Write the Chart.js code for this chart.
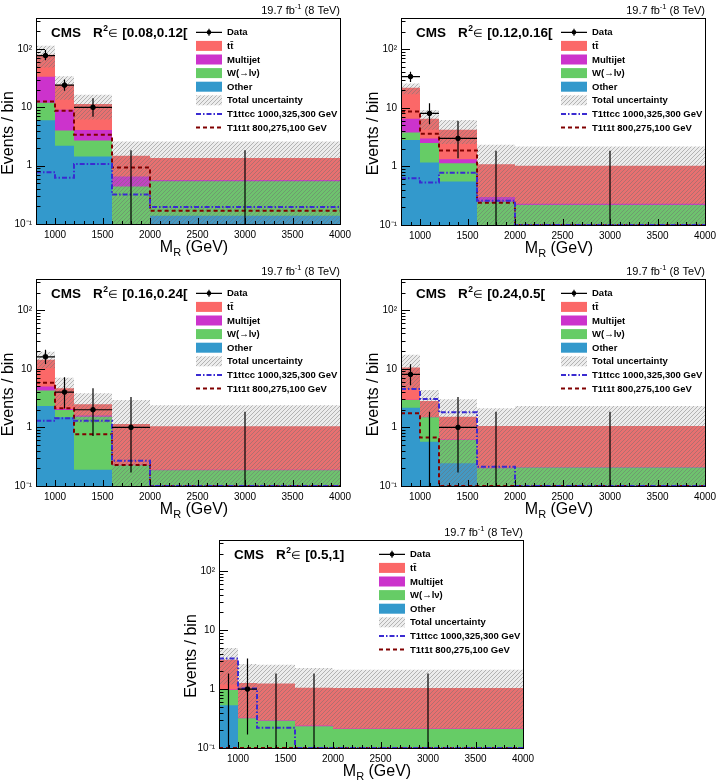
<!DOCTYPE html>
<html><head><meta charset="utf-8">
<script src="https://cdn.jsdelivr.net/npm/chart.js@4.4.1/dist/chart.umd.min.js"></script>
<style>
html,body{margin:0;padding:0;background:#fff;}
body{width:723px;height:780px;position:relative;overflow:hidden;}
canvas{position:absolute;}
</style></head><body>
<canvas id="c1"></canvas><canvas id="c2"></canvas><canvas id="c3"></canvas><canvas id="c4"></canvas><canvas id="c5"></canvas>
<script>
// ---------------- data ----------------
const binEdges   = [800, 1000, 1200, 1600, 2000, 4000];
const binCenters = [900, 1100, 1400, 1800, 3000];
const xTickLabels = [1000, 1500, 2000, 2500, 3000, 3500, 4000];
const yTickLabels = {0.1: '10⁻¹', 1: '1', 10: '10', 100: '10²'};
const seriesNames = ['Data', 'tt̄', 'Multijet', 'W(→lν)', 'Other', 'Total uncertainty', 'T1ttcc 1000,325,300 GeV', 'T1t1t 800,275,100 GeV'];
const r2Labels = ['[0.08,0.12[', '[0.12,0.16[', '[0.16,0.24[', '[0.24,0.5[', '[0.5,1]'];

// panel 1: R2 in [0.08,0.12[
const p1Other    = [6.0, 2.2, 1.44, 0.05, 0.138];
const p1W        = [6.0, 1.8, 1.26, 0.39, 0.40];
const p1Multijet = [21.5, 5.1, 1.4, 0.21, 0.03];
const p1TT       = [46.5, 15.4, 7.3, 0.83, 0.78];
const p1UncUp    = [114, 34, 16.4, 2.6, 2.6];
const p1UncLo    = [48, 13.5, 6.2, 0.05, 0.05];
const p1T1ttcc   = [0.77, 0.62, 1.07, 0.32, 0.195];
const p1T1t1t    = [12.6, 8.7, 3.4, 0.93, 0.168];
const p1Data     = [77, 24, 10, 0, 0];
const p1DataLo   = [64, 19.2, 6.9, 0, 0];
const p1DataHi   = [96, 30, 14.3, 1.84, 1.84];

// panel 2: R2 in [0.12,0.16[
const p2Other    = [2.83, 1.17, 0.55, 0.05, 0.05];
const p2W        = [0.97, 1.33, 0.58, 0.20, 0.17];
const p2Multijet = [2.7, 0.5, 0.19, 0.05, 0.01];
const p2TT       = [15.5, 3.5, 2.88, 0.79, 0.80];
const p2UncUp    = [26, 9.2, 6.2, 2.33, 2.18];
const p2UncLo    = [17, 4.2, 2.4, 0.05, 0.05];
const p2T1ttcc   = [0.63, 0.53, 0.78, 0.26, 0.1];
const p2T1t1t    = [8.6, 3.6, 1.86, 0.24, 0.1];
const p2Data     = [34, 8, 3, 0, 0];
const p2DataLo   = [27.5, 5.24, 1.37, 0, 0];
const p2DataHi   = [41, 11.94, 5.92, 1.84, 1.84];

// panel 3: R2 in [0.16,0.24[
const p3Other    = [2.32, 1.49, 0.19, 0.05, 0.05];
const p3W        = [1.92, 0.49, 1.33, 0.175, 0.135];
const p3Multijet = [0.73, 0.07, 0.08, 0.005, 0.005];
const p3TT       = [9.23, 2.61, 0.88, 0.91, 0.86];
const p3UncUp    = [19.6, 7.06, 3.82, 2.94, 2.39];
const p3UncLo    = [10.2, 2.3, 1.2, 0.05, 0.05];
const p3T1ttcc   = [1.30, 1.43, 1.30, 0.27, 0.1];
const p3T1t1t    = [5.8, 2.12, 0.76, 0.228, 0.1];
const p3Data     = [16, 4, 2, 1, 0];
const p3DataLo   = [12.05, 2.09, 0.71, 0.17, 0];
const p3DataHi   = [21.1, 7.16, 4.64, 3.30, 1.84];

// panel 4: R2 in [0.24,0.5[
const p4Other    = [2.17, 0.57, 0.244, 0.05, 0.05];
const p4W        = [0.77, 0.92, 0.366, 0.15, 0.156];
const p4Multijet = [0.02, 0.01, 0.01, 0.005, 0.004];
const p4TT       = [7.54, 1.33, 0.9, 0.855, 0.85];
const p4UncUp    = [17.3, 4.36, 3.02, 2.12, 2.32];
const p4UncLo    = [4.5, 1.5, 0.05, 0.05, 0.05];
const p4T1ttcc   = [4.5, 3.06, 1.81, 0.214, 0.1];
const p4T1t1t    = [1.74, 0.67, 0.1, 0.1, 0.1];
const p4Data     = [8, 0, 1, 0, 0];
const p4DataLo   = [5.24, 0, 0.17, 0, 0];
const p4DataHi   = [11.94, 1.84, 3.30, 1.84, 1.84];

// panel 5: R2 in [0.5,1]
const p5Other    = [0.53, 0.05, 0.05, 0.05, 0.05];
const p5W        = [0.44, 0.27, 0.24, 0.184, 0.16];
const p5Multijet = [0.01, 0.005, 0.005, 0.006, 0.005];
const p5TT       = [2.18, 0.945, 0.955, 0.81, 0.825];
const p5UncUp    = [5.0, 2.68, 2.6, 2.29, 2.14];
const p5UncLo    = [1.2, 0.33, 0.3, 0.24, 0.215];
const p5T1ttcc   = [3.3, 1.02, 0.22, 0.1, 0.1];
const p5T1t1t    = [0.1, 0.1, 0.1, 0.1, 0.1];
const p5Data     = [0, 1, 0, 0, 0];
const p5DataLo   = [0, 0.17, 0, 0, 0];
const p5DataHi   = [1.84, 3.30, 1.84, 1.84, 1.84];

// ---------------- layout / style ----------------
const FF = '"Liberation Sans", Arial, Helvetica, sans-serif';
const colTT = '#fb6868', colMJ = '#cc33cc', colW = '#66cc66', colOther = '#3399cc';
const colT1ttcc = '#3a2bd1', colT1t1t = '#800000';
const Y_MIN = 0.1, Y_MAX = 340;

const layouts = [
  {left:0,   top:0,   w:360, h:262, fl:36, ft:18, fr:340, fb:224},
  {left:362, top:0,   w:361, h:262, fl:39, ft:18, fr:343, fb:225},
  {left:0,   top:262, w:360, h:258, fl:36, ft:17, fr:340, fb:224},
  {left:362, top:262, w:361, h:258, fl:39, ft:17, fr:343, fb:224},
  {left:180, top:520, w:363, h:260, fl:39, ft:20, fr:343, fb:228}
];

const panels = [
  {other:p1Other, w:p1W, mj:p1Multijet, tt:p1TT, up:p1UncUp, lo:p1UncLo, ttcc:p1T1ttcc, t1t1t:p1T1t1t, data:p1Data, dlo:p1DataLo, dhi:p1DataHi},
  {other:p2Other, w:p2W, mj:p2Multijet, tt:p2TT, up:p2UncUp, lo:p2UncLo, ttcc:p2T1ttcc, t1t1t:p2T1t1t, data:p2Data, dlo:p2DataLo, dhi:p2DataHi},
  {other:p3Other, w:p3W, mj:p3Multijet, tt:p3TT, up:p3UncUp, lo:p3UncLo, ttcc:p3T1ttcc, t1t1t:p3T1t1t, data:p3Data, dlo:p3DataLo, dhi:p3DataHi},
  {other:p4Other, w:p4W, mj:p4Multijet, tt:p4TT, up:p4UncUp, lo:p4UncLo, ttcc:p4T1ttcc, t1t1t:p4T1t1t, data:p4Data, dlo:p4DataLo, dhi:p4DataHi},
  {other:p5Other, w:p5W, mj:p5Multijet, tt:p5TT, up:p5UncUp, lo:p5UncLo, ttcc:p5T1ttcc, t1t1t:p5T1t1t, data:p5Data, dlo:p5DataLo, dhi:p5DataHi}
];

// hatch pattern
function makeHatch(){
  const s = 4, c = document.createElement('canvas'); c.width = s; c.height = s;
  const g = c.getContext('2d');
  g.fillStyle = 'rgba(150,150,150,0.18)'; g.fillRect(0, 0, s, s);
  g.strokeStyle = 'rgba(110,110,110,0.45)'; g.lineWidth = 1;
  g.beginPath();
  g.moveTo(0, s); g.lineTo(s, 0);
  g.moveTo(-1, 1); g.lineTo(1, -1);
  g.moveTo(s - 1, s + 1); g.lineTo(s + 1, s - 1);
  g.stroke();
  return g.createPattern(c, 'repeat');
}
const hatch = makeHatch();

const xTicksAll = []; for (let v = 800; v <= 4000; v += 100) xTicksAll.push(v);
const yTicksAll = [];
for (let e = -1; e <= 2; e++) for (let m = 1; m <= 9; m++) {
  const v = Number((m * Math.pow(10, e)).toPrecision(2)); if (v <= Y_MAX) yTicksAll.push(v);
}
const isMajorY = v => Math.abs(Math.log10(v) - Math.round(Math.log10(v))) < 1e-6;

function steps(vals){ return binEdges.map((x, i) => ({x, y: vals[Math.min(i, vals.length - 1)]})); }
function cumulate(arrs){
  const out = []; let acc = arrs[0].map(() => 0);
  arrs.forEach(a => { acc = acc.map((v, i) => v + a[i]); out.push(acc.slice()); });
  return out;
}
function errorSegments(vals, lo, hi){
  const pts = [];
  vals.forEach((v, i) => {
    const c = binCenters[i];
    pts.push({x:c, y:Math.max(lo[i], Y_MIN * 0.5)}, {x:c, y:hi[i]}, {x:c, y:null});
    if (v > 0) pts.push({x:binEdges[i], y:v}, {x:binEdges[i + 1], y:v}, {x:binEdges[i + 1], y:null});
  });
  return pts;
}

function drawParts(ctx, x, y, parts){
  parts.forEach(p => { ctx.font = p.font; ctx.fillText(p.t, x + (p.dx || 0), y + (p.dy || 0)); x += ctx.measureText(p.t).width + (p.dx || 0); });
  return x;
}
function partsWidth(ctx, parts){
  let w = 0; parts.forEach(p => { ctx.font = p.font; w += ctx.measureText(p.t).width + (p.dx || 0); }); return w;
}

const decor = {
  id: 'decor',
  afterDraw(chart){
    const ctx = chart.ctx, a = chart.chartArea, xs = chart.scales.x, ys = chart.scales.y;
    const r2 = chart.config.options.r2Label;
    ctx.save();
    ctx.strokeStyle = '#000'; ctx.fillStyle = '#000'; ctx.lineWidth = 1;
    // ticks
    ctx.beginPath();
    xs.ticks.forEach(t => {
      const px = Math.round(xs.getPixelForValue(t.value)) + 0.5;
      const len = (t.value % 500 === 0) ? 6 : 3;
      ctx.moveTo(px, a.bottom); ctx.lineTo(px, a.bottom - len);
    });
    ys.ticks.forEach(t => {
      const py = Math.round(ys.getPixelForValue(t.value)) + 0.5;
      const len = isMajorY(t.value) ? 9 : 4.5;
      ctx.moveTo(a.left, py); ctx.lineTo(a.left + len, py);
    });
    ctx.stroke();
    // frame
    ctx.strokeRect(Math.round(a.left) + 0.5, Math.round(a.top) + 0.5, Math.round(a.right - a.left), Math.round(a.bottom - a.top));

    // y title
    ctx.save();
    ctx.translate(a.left - 27, (a.top + a.bottom) / 2 + 12);
    ctx.rotate(-Math.PI / 2);
    ctx.textAlign = 'center'; ctx.textBaseline = 'middle';
    ctx.font = '16px ' + FF;
    ctx.fillText('Events / bin', 0, 0);
    ctx.restore();

    // x title
    ctx.textAlign = 'left'; ctx.textBaseline = 'alphabetic';
    const xt = [{t:'M', font:'16px ' + FF}, {t:'R', font:'11px ' + FF, dy:4}, {t:' (GeV)', font:'16px ' + FF}];
    const xw = partsWidth(ctx, xt);
    drawParts(ctx, (a.left + a.right) / 2 + 6 - xw / 2, a.bottom + 28, xt);

    // lumi
    const lp = [{t:'19.7 fb', font:'11px ' + FF}, {t:'-1', font:'7.5px ' + FF, dy:-4.5}, {t:' (8 TeV)', font:'11px ' + FF}];
    const lw = partsWidth(ctx, lp);
    drawParts(ctx, a.right - lw, a.top - 4.5, lp);

    // CMS label
    drawParts(ctx, a.left + 15, a.top + 18.5, [{t:'CMS', font:'bold 13.5px ' + FF}]);
    drawParts(ctx, a.left + 57, a.top + 18.5, [
      {t:'R', font:'bold 13.5px ' + FF},
      {t:'2', font:'bold 8.5px ' + FF, dy:-5.5, dx:0.5},
      {t:'∈', font:'11px ' + FF, dx:0.5},
      {t:' ' + r2, font:'bold 13.5px ' + FF}
    ]);

    // legend
    const lx = a.left + 160, ly0 = a.top + 14.3, dy = 13.6, sw = 26, sh = 10;
    seriesNames.forEach((name, i) => {
      const cy = ly0 + i * dy;
      ctx.save();
      if (i === 0) {
        ctx.strokeStyle = '#000'; ctx.lineWidth = 1.2;
        ctx.beginPath(); ctx.moveTo(lx, cy); ctx.lineTo(lx + sw, cy);
        ctx.moveTo(lx + sw / 2, cy - 3.5); ctx.lineTo(lx + sw / 2, cy + 3.5); ctx.stroke();
        ctx.beginPath(); ctx.arc(lx + sw / 2, cy, 2.3, 0, 2 * Math.PI); ctx.fill();
      } else if (i >= 1 && i <= 4) {
        ctx.fillStyle = [colTT, colMJ, colW, colOther][i - 1];
        ctx.fillRect(lx, cy - sh / 2, sw, sh);
      } else if (i === 5) {
        ctx.fillStyle = hatch; ctx.fillRect(lx, cy - sh / 2, sw, sh);
      } else {
        ctx.strokeStyle = i === 6 ? colT1ttcc : colT1t1t; ctx.lineWidth = 2;
        ctx.setLineDash(i === 6 ? [5, 2, 1.5, 2] : [4, 3]);
        ctx.beginPath(); ctx.moveTo(lx, cy); ctx.lineTo(lx + sw, cy); ctx.stroke();
      }
      ctx.restore();
      ctx.fillStyle = '#000'; ctx.textBaseline = 'middle'; ctx.textAlign = 'left';
      ctx.font = 'bold 9.5px ' + FF;
      ctx.fillText(name, lx + 31, cy + 0.5);
    });
    ctx.restore();
  }
};

function buildChart(idx){
  const L = layouts[idx], p = panels[idx];
  const cv = document.getElementById('c' + (idx + 1));
  cv.width = L.w; cv.height = L.h;
  cv.style.left = L.left + 'px'; cv.style.top = L.top + 'px';
  cv.style.width = L.w + 'px'; cv.style.height = L.h + 'px';
  const [cOther, cW, cMJ, cTT] = cumulate([p.other, p.w, p.mj, p.tt]);
  const base = {stepped: true, pointRadius: 0, borderWidth: 0, borderColor: 'rgba(0,0,0,0)', tension: 0};
  const datasets = [
    Object.assign({}, base, {label: seriesNames[1], data: steps(cTT),    fill: 'start', backgroundColor: colTT,    order: 10}),
    Object.assign({}, base, {label: seriesNames[2], data: steps(cMJ),    fill: 'start', backgroundColor: colMJ,    order: 9}),
    Object.assign({}, base, {label: seriesNames[3], data: steps(cW),     fill: 'start', backgroundColor: colW,     order: 8}),
    Object.assign({}, base, {label: seriesNames[4], data: steps(cOther), fill: 'start', backgroundColor: colOther, order: 7}),
    Object.assign({}, base, {label: seriesNames[5], data: steps(p.up),   fill: '+1',    backgroundColor: hatch,    order: 6}),
    Object.assign({}, base, {label: 'unc-low',      data: steps(p.lo),   fill: false,   order: 6}),
    {label: seriesNames[7], data: steps(p.t1t1t), stepped: true, fill: false, pointRadius: 0,
     borderColor: colT1t1t, borderWidth: 2, borderDash: [4, 3], order: 3},
    {label: seriesNames[6], data: steps(p.ttcc), stepped: true, fill: false, pointRadius: 0,
     borderColor: colT1ttcc, borderWidth: 2, borderDash: [5, 2, 1.5, 2], order: 2},
    {label: 'Data errors', data: errorSegments(p.data, p.dlo, p.dhi), fill: false, pointRadius: 0,
     borderColor: '#000', borderWidth: 1.2, spanGaps: false, order: 1},
    {label: seriesNames[0], data: p.data.map((v, i) => v > 0 ? {x: binCenters[i], y: v} : null).filter(Boolean),
     showLine: false, fill: false, pointRadius: 2.3, pointBackgroundColor: '#000', pointBorderColor: '#000', pointBorderWidth: 1, order: 0}
  ];
  new Chart(cv, {
    type: 'line',
    data: {datasets},
    plugins: [decor],
    options: {
      r2Label: r2Labels[idx],
      responsive: false, animation: false, devicePixelRatio: 1,
      layout: {padding: {left: 0, top: L.ft, right: L.w - L.fr, bottom: 0}},
      plugins: {legend: {display: false}, tooltip: {enabled: false}},
      events: [],
      scales: {
        x: {
          type: 'linear', min: 800, max: 4000,
          afterBuildTicks: s => { s.ticks = xTicksAll.map(v => ({value: v})); },
          afterFit: s => { s.height = L.h - L.fb; },
          ticks: {autoSkip: false, maxRotation: 0, minRotation: 0, padding: 5, color: '#000',
                  font: {size: 10, family: FF},
                  callback: v => xTickLabels.includes(v) ? String(v) : ''},
          grid: {display: false, drawTicks: false}, border: {display: false}
        },
        y: {
          type: 'logarithmic', min: Y_MIN, max: Y_MAX,
          afterBuildTicks: s => { s.ticks = yTicksAll.map(v => ({value: v})); },
          afterFit: s => { s.width = L.fl; },
          ticks: {autoSkip: false, padding: 4, color: '#000', font: {size: 10, family: FF},
                  callback: v => (yTickLabels[v] !== undefined ? yTickLabels[v] : '')},
          grid: {display: false, drawTicks: false}, border: {display: false}
        }
      }
    }
  });
}
for (let i = 0; i < 5; i++) buildChart(i);
</script>
</body></html>
